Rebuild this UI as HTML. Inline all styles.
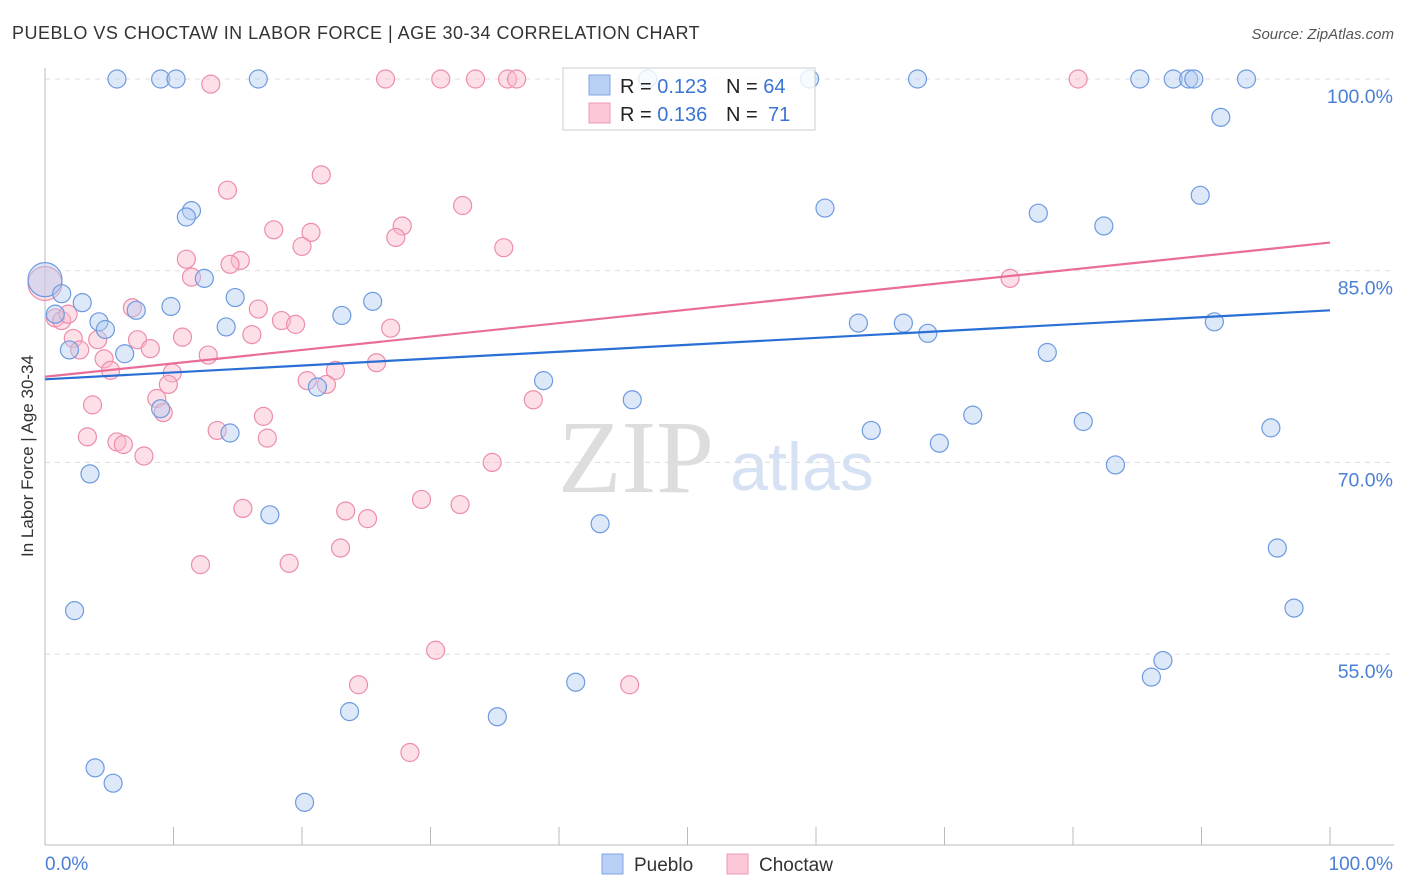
<!DOCTYPE html>
<html><head><meta charset="utf-8"><style>
body{margin:0;background:#fff;font-family:"Liberation Sans",sans-serif;}
svg{display:block}
</style></head><body>
<svg id="chart" width="1406" height="892" xmlns="http://www.w3.org/2000/svg">
<text x="12" y="39" font-size="18" fill="#333" letter-spacing="0.4" textLength="688">PUEBLO VS CHOCTAW IN LABOR FORCE | AGE 30-34 CORRELATION CHART</text>
<text x="1394" y="39" font-size="15" fill="#555" font-style="italic" text-anchor="end">Source: ZipAtlas.com</text>
<text x="33" y="456" font-size="17" fill="#333" text-anchor="middle" transform="rotate(-90 33 456)">In Labor Force | Age 30-34</text>
<text x="636" y="492" font-size="104" fill="#ddd" font-family="Liberation Serif,serif" text-anchor="middle">ZIP</text>
<text x="802" y="490" font-size="68" fill="#d6e2f3" text-anchor="middle">atlas</text>
<g id="grid"></g><g id="axes"></g><g id="pts"></g><g id="lines"></g>
<g>
<rect x="563" y="68" width="252" height="62" fill="#fff" fill-opacity="0.8" stroke="#ccc"/>
<rect x="589" y="75" width="21" height="20" fill="#b8d0f3" stroke="#7fa6e3"/>
<rect x="589" y="103" width="21" height="20" fill="#fcc8d7" stroke="#ef97b2"/>
<text x="620" y="93" font-size="20" fill="#222">R = <tspan fill="#3a74d4">0.123</tspan><tspan x="726">N = </tspan><tspan fill="#3a74d4">64</tspan></text>
<text x="620" y="121" font-size="20" fill="#222">R = <tspan fill="#3a74d4">0.136</tspan><tspan x="726">N = </tspan><tspan fill="#3a74d4" x="768">71</tspan></text>
</g>
<g>
<rect x="602" y="854" width="21" height="20" fill="#b8d0f3" stroke="#7fa6e3"/>
<text x="634" y="871" font-size="19" fill="#333">Pueblo</text>
<rect x="727" y="854" width="21" height="20" fill="#fcc8d7" stroke="#ef97b2"/>
<text x="759" y="871" font-size="19" fill="#333">Choctaw</text>
</g>
</svg>
<script>
const yTicks=[100,85,70,55];
const xLabels=["0.0%","100.0%"];
const pueblo=[[5.6,100],[9,100],[10.2,100],[16.6,100],[46.9,100],[59.5,100],[67.9,100],[85.2,100],[87.8,100],[89,100],[89.4,100],[93.5,100],[91.5,97],[89.9,90.9],[60.7,89.9],[77.3,89.5],[82.4,88.5],[11.4,89.7],[11,89.2],[12.4,84.4],[0,84.3],[1.3,83.2],[2.9,82.5],[0.8,81.6],[4.2,81],[4.7,80.4],[7.1,81.9],[9.8,82.2],[14.8,82.9],[14.1,80.6],[25.5,82.6],[23.1,81.5],[1.9,78.8],[6.2,78.5],[63.3,80.9],[66.8,80.9],[68.7,80.1],[91,81],[78,78.6],[38.8,76.4],[21.2,75.9],[45.7,74.9],[9,74.2],[14.4,72.3],[64.3,72.5],[69.6,71.5],[72.2,73.7],[80.8,73.2],[95.4,72.7],[83.3,69.8],[3.5,69.1],[17.5,65.9],[43.2,65.2],[95.9,63.3],[97.2,58.6],[2.3,58.4],[87,54.5],[86.1,53.2],[41.3,52.8],[23.7,50.5],[35.2,50.1],[3.9,46.1],[5.3,44.9],[20.2,43.4]];
const choctaw=[[12.9,99.6],[26.5,100],[30.8,100],[33.5,100],[36,100],[36.7,100],[80.4,100],[21.5,92.5],[14.2,91.3],[32.5,90.1],[27.8,88.5],[17.8,88.2],[20.7,88],[27.3,87.6],[20,86.9],[35.7,86.8],[11,85.9],[15.2,85.8],[14.4,85.5],[11.4,84.5],[75.1,84.4],[0,84],[0.8,81.3],[1.3,81.1],[1.8,81.6],[6.8,82.1],[16.6,82],[18.4,81.1],[19.5,80.8],[26.9,80.5],[16.1,80],[10.7,79.8],[2.2,79.7],[4.1,79.6],[7.2,79.6],[8.2,78.9],[2.7,78.8],[12.7,78.4],[25.8,77.8],[4.6,78.1],[5.1,77.2],[9.9,77],[20.4,76.4],[22.6,77.2],[21.9,76.1],[9.6,76.1],[8.7,75],[9.2,73.9],[17,73.6],[38,74.9],[3.7,74.5],[13.4,72.5],[3.3,72],[5.6,71.6],[6.1,71.4],[17.3,71.9],[7.7,70.5],[34.8,70],[29.3,67.1],[32.3,66.7],[15.4,66.4],[23.4,66.2],[25.1,65.6],[23,63.3],[12.1,62],[19,62.1],[30.4,55.3],[24.4,52.6],[45.5,52.6],[28.4,47.3]];
const bluePts=[[0,76.5],[100,81.9]];
const pinkPts=[[0,76.7],[100,87.2]];
const X0=45,X1=1330,Y100=79,PX=12.78;
const sx=v=>X0+(X1-X0)*v/100, sy=v=>Y100+(100-v)*PX;
const NS="http://www.w3.org/2000/svg";
function mk(t,a,p){const e=document.createElementNS(NS,t);for(const k in a)e.setAttribute(k,a[k]);document.getElementById(p).appendChild(e);return e;}
yTicks.forEach(v=>{
 const g=mk('line',{x1:45,x2:1394,y1:sy(v),y2:sy(v),stroke:'#ddd','stroke-dasharray':'5,5'},'grid');
 
 
 const t=mk('text',{x:1393,y:sy(v)+24,'font-size':19.5,fill:'#4a7fd6','text-anchor':'end'},'axes');
 t.textContent=v.toFixed(1)+'%';
 
 
});
const ax=mk('line',{x1:45,x2:45,y1:68,y2:845,stroke:'#bbb'},'axes');


const bx=mk('line',{x1:45,x2:1394,y1:845,y2:845,stroke:'#bbb'},'axes');


for(let i=0;i<=10;i++){const l=mk('line',{x1:sx(i*10),x2:sx(i*10),y1:827,y2:845,stroke:'#bbb'},'axes');
 
 }
xLabels.forEach((s,i)=>{const t=mk('text',{x:i?1393:45,y:870,'font-size':19,fill:'#4a7fd6','text-anchor':i?'end':'start'},'axes');t.textContent=s;
 
 });
function dots(arr,fill,stroke,name){arr.forEach((d,i)=>{const big=d[0]===0;const c=mk('circle',{cx:sx(d[0]),cy:sy(d[1]),r:big?17:9,fill:fill,'fill-opacity':0.45,stroke:stroke,'stroke-width':1.2},'pts');
 
 });}
dots(choctaw,'#fbb8cb','#ec8eab','choctaw-point');
dots(pueblo,'#b3cdf2','#6e9ae0','pueblo-point');
function tl(p,c,n){const l=mk('line',{x1:sx(p[0][0]),y1:sy(p[0][1]),x2:sx(p[1][0]),y2:sy(p[1][1]),stroke:c,'stroke-width':2.2},'lines');
 
 }
tl(bluePts,'#2a6fd6','pueblo-trend-line');
tl(pinkPts,'#e96d98','choctaw-trend-line');
</script>
</body></html>
